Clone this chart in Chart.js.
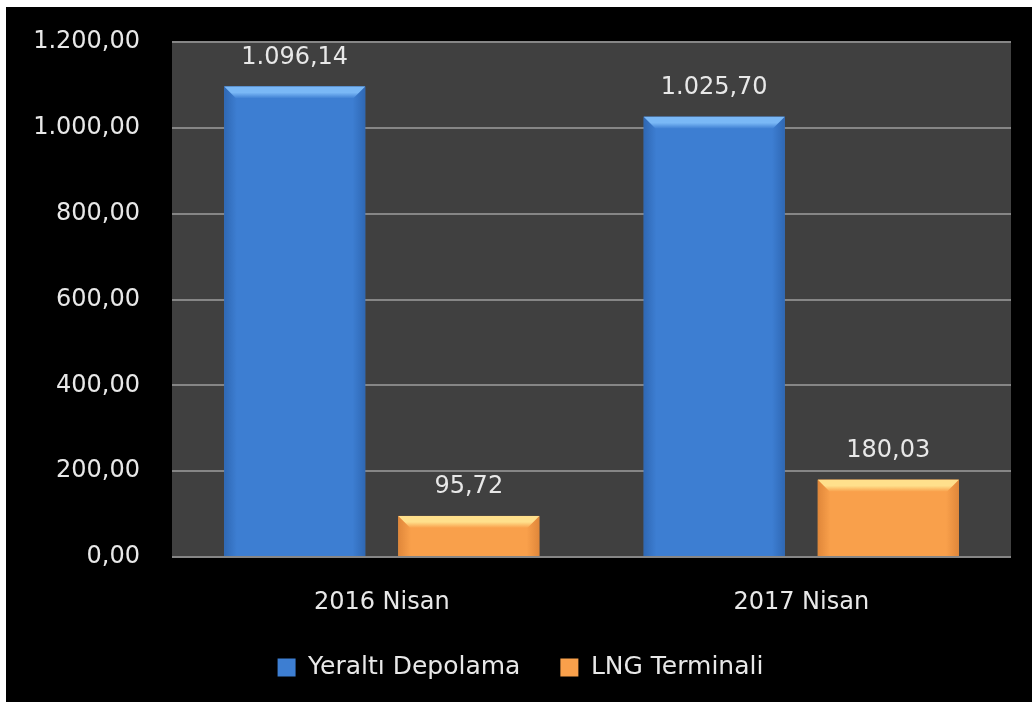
<!DOCTYPE html>
<html>
<head>
<meta charset="utf-8">
<script src="https://cdn.jsdelivr.net/npm/chart.js@4/dist/chart.umd.min.js"></script>
<style>
    html, body { margin: 0; padding: 0; background: #ffffff; }
    #wrap { position: absolute; left: 6px; top: 7px; width: 1026px; height: 695px; background: #000000; }
</style>
</head>
<body>
<div id="wrap"><canvas id="barChart"></canvas></div>
<script>
// === DATA ===
const categories = ['2016 Nisan', '2017 Nisan'];
const seriesNames = ['Yeraltı Depolama', 'LNG Terminali'];
const yeraltiValues = [1096.14, 1025.70];
const lngValues = [95.72, 180.03];
const yTicks = [0, 200, 400, 600, 800, 1000, 1200];

// colors: [main, light top bevel, dark edge]
const blueTone = ['#3d7ed2', '#7ab8f6', '#2f68b4'];
const orangeTone = ['#f9a04b', '#ffe08c', '#e0873a'];

// Turkish number format: 1.096,14
function fmt(v) {
    const parts = v.toFixed(2).split('.');
    return parts[0].replace(/\B(?=(\d{3})+(?!\d))/g, '.') + ',' + parts[1];
}

// plot area background
const plotBg = {
    id: 'plotBg',
    beforeDraw(chart) {
        const a = chart.chartArea, ctx = chart.ctx;
        ctx.save();
        ctx.fillStyle = '#404040';
        ctx.fillRect(a.left, a.top, a.right - a.left, a.bottom - a.top);
        ctx.restore();
    }
};

// bevel shading + value labels
const bevelLabels = {
    id: 'bevelLabels',
    afterDatasetsDraw(chart) {
        const ctx = chart.ctx;
        chart.data.datasets.forEach((ds, di) => {
            const tone = di === 0 ? blueTone : orangeTone;
            chart.getDatasetMeta(di).data.forEach((bar, i) => {
                const w = bar.width, l = bar.x - w / 2, r = bar.x + w / 2;
                const t = bar.y, b = bar.base, d = 12;
                ctx.save();
                // side shading
                const g = ctx.createLinearGradient(l, 0, r, 0);
                g.addColorStop(0, tone[2]);
                g.addColorStop(0.09, tone[0]);
                g.addColorStop(0.91, tone[0]);
                g.addColorStop(1, tone[2]);
                ctx.fillStyle = g;
                ctx.fillRect(l, t, w, b - t);
                // top bevel
                const gt = ctx.createLinearGradient(0, t, 0, t + d);
                gt.addColorStop(0, tone[1]);
                gt.addColorStop(0.5, tone[1]);
                gt.addColorStop(1, tone[0]);
                ctx.fillStyle = gt;
                ctx.beginPath();
                ctx.moveTo(l, t);
                ctx.lineTo(r, t);
                ctx.lineTo(r - d, t + d);
                ctx.lineTo(l + d, t + d);
                ctx.closePath();
                ctx.fill();
                // label
                ctx.fillStyle = '#e8e8e8';
                ctx.font = '24px "DejaVu Sans"';
                ctx.textAlign = 'center';
                ctx.textBaseline = 'middle';
                ctx.fillText(fmt(ds.data[i]), bar.x, t - 29);
                ctx.restore();
            });
        });
    }
};

new Chart(document.getElementById('barChart'), {
    type: 'bar',
    data: {
        labels: categories,
        datasets: [
            {
                label: seriesNames[0],
                data: yeraltiValues,
                backgroundColor: blueTone[0],
                categoryPercentage: 0.83,
                barPercentage: 0.81
            },
            {
                label: seriesNames[1],
                data: lngValues,
                backgroundColor: orangeTone[0],
                categoryPercentage: 0.83,
                barPercentage: 0.81
            }
        ]
    },
    options: {
        responsive: true,
        maintainAspectRatio: false,
        animation: false,
        layout: { padding: { top: 35, right: 21, bottom: 12, left: 24 } },
        plugins: {
            tooltip: { enabled: false },
            legend: {
                position: 'bottom',
                maxHeight: 90,
                labels: {
                    color: '#e8e8e8',
                    font: { family: 'DejaVu Sans', size: 25 },
                    boxWidth: 18,
                    boxHeight: 18,
                    padding: 40
                }
            }
        },
        scales: {
            x: {
                grid: { display: false, drawTicks: false },
                border: { display: false },
                ticks: { color: '#e8e8e8', font: { family: 'DejaVu Sans', size: 24 }, padding: 31 },
                afterFit(scale) { scale.height = 58; }
            },
            y: {
                min: 0,
                max: 1200,
                afterBuildTicks(scale) { scale.ticks = yTicks.map(v => ({ value: v })); },
                grid: { color: '#868686', lineWidth: 2, drawTicks: false },
                border: { display: false },
                ticks: {
                    color: '#e8e8e8',
                    font: { family: 'DejaVu Sans', size: 24 },
                    padding: 32,
                    callback: v => fmt(v)
                },
                afterFit(scale) {
                    scale.width = 142;
                    scale.paddingTop = 0;
                    scale.paddingBottom = 0;
                }
            }
        }
    },
    plugins: [plotBg, bevelLabels]
});
</script>
</body>
</html>
